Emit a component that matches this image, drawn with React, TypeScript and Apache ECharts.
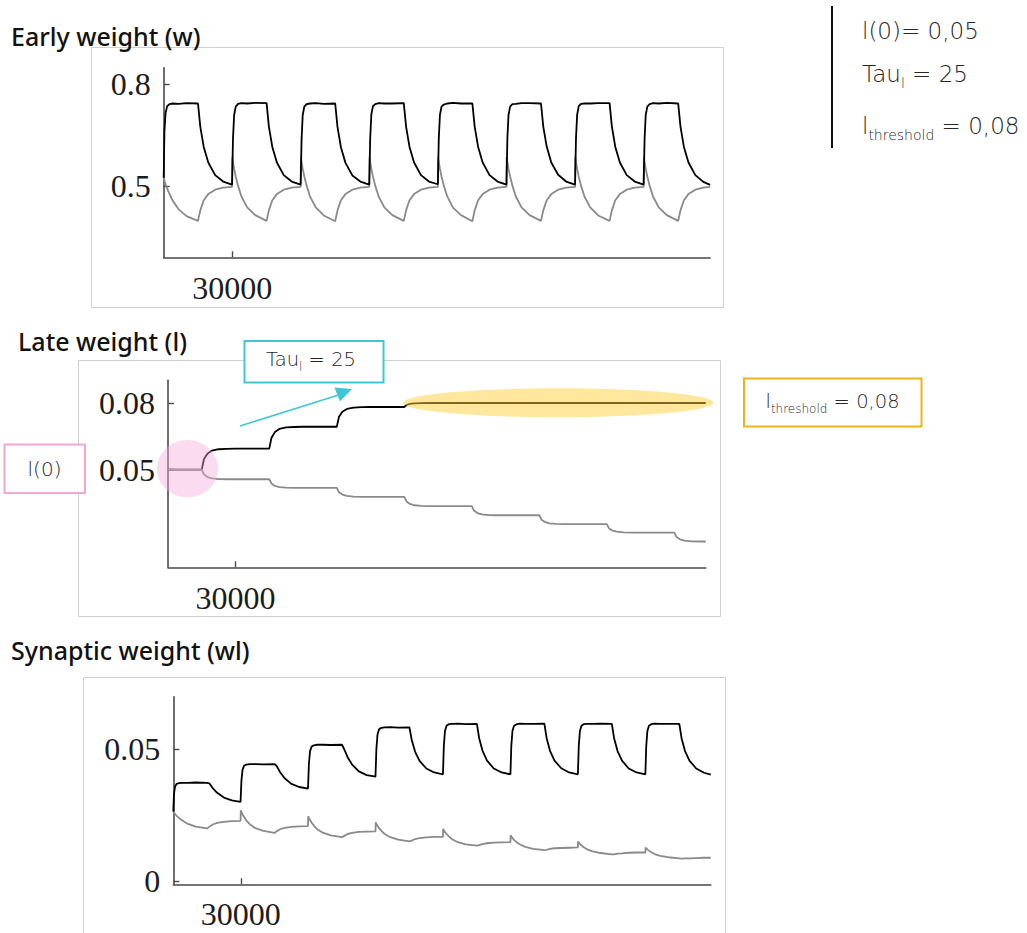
import React, { useEffect, useRef } from "react";
import * as echarts from "echarts";

// ---------- data ----------
const time = [
  0, 300, 800, 1500, 2500, 4000, 6500, 10000, 15000, 16000, 17500, 19500, 22500, 26000, 29900,
  30000, 30300, 30800, 31500, 32500, 34000, 36500, 40000, 45000, 46000, 47500, 49500, 52500, 56000, 59900,
  60000, 60300, 60800, 61500, 62500, 64000, 66500, 70000, 75000, 76000, 77500, 79500, 82500, 86000, 89900,
  90000, 90300, 90800, 91500, 92500, 94000, 96500, 100000, 105000, 106000, 107500, 109500, 112500, 116000, 119900,
  120000, 120300, 120800, 121500, 122500, 124000, 126500, 130000, 135000, 136000, 137500, 139500, 142500, 146000, 149900,
  150000, 150300, 150800, 151500, 152500, 154000, 156500, 160000, 165000, 166000, 167500, 169500, 172500, 176000, 179900,
  180000, 180300, 180800, 181500, 182500, 184000, 186500, 190000, 195000, 196000, 197500, 199500, 202500, 206000, 209900,
  210000, 210300, 210800, 211500, 212500, 214000, 216500, 220000, 225000, 226000, 227500, 229500, 232500, 236000, 239000,
];

const earlyStimulated = [
  0.525, 0.66, 0.715, 0.736, 0.742, 0.744, 0.743, 0.745, 0.744, 0.676, 0.616, 0.57, 0.533, 0.514, 0.505,
  0.505, 0.64, 0.71, 0.735, 0.743, 0.745, 0.744, 0.746, 0.745, 0.676, 0.616, 0.57, 0.533, 0.514, 0.505,
  0.505, 0.64, 0.71, 0.735, 0.742, 0.744, 0.745, 0.743, 0.744, 0.675, 0.615, 0.569, 0.532, 0.514, 0.505,
  0.505, 0.64, 0.711, 0.736, 0.742, 0.745, 0.744, 0.744, 0.745, 0.676, 0.616, 0.57, 0.533, 0.514, 0.506,
  0.506, 0.64, 0.71, 0.735, 0.741, 0.744, 0.746, 0.744, 0.744, 0.676, 0.616, 0.57, 0.533, 0.514, 0.505,
  0.505, 0.641, 0.71, 0.735, 0.742, 0.743, 0.745, 0.745, 0.744, 0.676, 0.617, 0.57, 0.534, 0.514, 0.505,
  0.505, 0.64, 0.71, 0.736, 0.743, 0.744, 0.744, 0.745, 0.745, 0.676, 0.616, 0.57, 0.533, 0.514, 0.505,
  0.505, 0.64, 0.71, 0.735, 0.742, 0.745, 0.744, 0.746, 0.744, 0.676, 0.616, 0.57, 0.533, 0.513, 0.504,
];

const earlyUnstimulated = [
  0.525, 0.517, 0.506, 0.494, 0.478, 0.457, 0.432, 0.412, 0.398, 0.429, 0.459, 0.477, 0.49, 0.496, 0.498,
  0.586, 0.572, 0.552, 0.529, 0.502, 0.47, 0.438, 0.415, 0.398, 0.429, 0.459, 0.477, 0.49, 0.496, 0.498,
  0.586, 0.572, 0.552, 0.529, 0.502, 0.47, 0.438, 0.414, 0.397, 0.429, 0.459, 0.477, 0.49, 0.496, 0.498,
  0.585, 0.571, 0.552, 0.529, 0.502, 0.47, 0.438, 0.415, 0.398, 0.429, 0.459, 0.477, 0.49, 0.496, 0.498,
  0.586, 0.572, 0.552, 0.529, 0.502, 0.47, 0.437, 0.415, 0.397, 0.429, 0.459, 0.477, 0.49, 0.496, 0.498,
  0.586, 0.572, 0.552, 0.529, 0.502, 0.47, 0.438, 0.415, 0.398, 0.429, 0.459, 0.477, 0.49, 0.496, 0.498,
  0.586, 0.572, 0.552, 0.529, 0.502, 0.47, 0.438, 0.414, 0.398, 0.429, 0.459, 0.477, 0.49, 0.496, 0.498,
  0.586, 0.572, 0.552, 0.529, 0.502, 0.47, 0.438, 0.415, 0.398, 0.429, 0.459, 0.477, 0.49, 0.496, 0.498,
];

const lateStimulated = [
  0.05, 0.05, 0.05, 0.05, 0.05, 0.05, 0.05, 0.05, 0.05, 0.0548, 0.0572, 0.0586, 0.0592, 0.0594, 0.0595,
  0.0595, 0.0595, 0.0595, 0.0595, 0.0595, 0.0595, 0.0595, 0.0595, 0.0595, 0.0644, 0.0669, 0.0683, 0.069, 0.0692, 0.0693,
  0.0693, 0.0693, 0.0693, 0.0693, 0.0693, 0.0693, 0.0693, 0.0693, 0.0693, 0.0738, 0.0761, 0.0773, 0.0779, 0.0781, 0.0782,
  0.0782, 0.0782, 0.0782, 0.0782, 0.0782, 0.0782, 0.0782, 0.0782, 0.0782, 0.0791, 0.0796, 0.0798, 0.0799, 0.08, 0.08,
  0.08, 0.08, 0.08, 0.08, 0.08, 0.08, 0.08, 0.08, 0.08, 0.08, 0.08, 0.08, 0.08, 0.08, 0.08,
  0.08, 0.08, 0.08, 0.08, 0.08, 0.08, 0.08, 0.08, 0.08, 0.08, 0.08, 0.08, 0.08, 0.08, 0.08,
  0.08, 0.08, 0.08, 0.08, 0.08, 0.08, 0.08, 0.08, 0.08, 0.08, 0.08, 0.08, 0.08, 0.08, 0.08,
  0.08, 0.08, 0.08, 0.08, 0.08, 0.08, 0.08, 0.08, 0.08, 0.08, 0.08, 0.08, 0.08, 0.08, 0.08,
];

const lateUnstimulated = [
  0.05, 0.05, 0.05, 0.05, 0.05, 0.05, 0.05, 0.05, 0.05, 0.0479, 0.0467, 0.0461, 0.0458, 0.0457, 0.0457,
  0.0457, 0.0457, 0.0457, 0.0457, 0.0457, 0.0457, 0.0457, 0.0457, 0.0457, 0.0438, 0.0427, 0.0422, 0.0419, 0.0418, 0.0418,
  0.0418, 0.0418, 0.0418, 0.0418, 0.0418, 0.0418, 0.0418, 0.0418, 0.0418, 0.0398, 0.0388, 0.0382, 0.0379, 0.0378, 0.0378,
  0.0378, 0.0378, 0.0378, 0.0378, 0.0378, 0.0378, 0.0378, 0.0378, 0.0378, 0.0357, 0.0346, 0.034, 0.0337, 0.0336, 0.0336,
  0.0336, 0.0336, 0.0336, 0.0336, 0.0336, 0.0336, 0.0336, 0.0336, 0.0336, 0.0316, 0.0305, 0.0299, 0.0296, 0.0295, 0.0295,
  0.0295, 0.0295, 0.0295, 0.0295, 0.0295, 0.0295, 0.0295, 0.0295, 0.0295, 0.0275, 0.0265, 0.0259, 0.0256, 0.0255, 0.0255,
  0.0255, 0.0255, 0.0255, 0.0255, 0.0255, 0.0255, 0.0255, 0.0255, 0.0255, 0.0236, 0.0226, 0.0221, 0.0218, 0.0217, 0.0217,
  0.0217, 0.0217, 0.0217, 0.0217, 0.0217, 0.0217, 0.0217, 0.0217, 0.0217, 0.0197, 0.0187, 0.0181, 0.0178, 0.0177, 0.0177,
];

const synStimulated = [
  0.0263, 0.033, 0.0358, 0.0368, 0.0371, 0.0372, 0.0372, 0.0373, 0.0372, 0.037, 0.0352, 0.0334, 0.0316, 0.0305, 0.03,
  0.03, 0.0381, 0.0422, 0.0437, 0.0441, 0.0443, 0.0443, 0.0442, 0.0443, 0.0435, 0.0412, 0.0389, 0.0368, 0.0356, 0.035,
  0.035, 0.0444, 0.0492, 0.0509, 0.0514, 0.0516, 0.0516, 0.0515, 0.0516, 0.0499, 0.0469, 0.0441, 0.0415, 0.0401, 0.0395,
  0.0395, 0.05, 0.0555, 0.0575, 0.058, 0.0582, 0.0583, 0.0581, 0.0582, 0.0535, 0.049, 0.0455, 0.0426, 0.0411, 0.0404,
  0.0404, 0.0512, 0.0568, 0.0588, 0.0594, 0.0595, 0.0596, 0.0594, 0.0595, 0.0541, 0.0493, 0.0456, 0.0426, 0.0411, 0.0404,
  0.0404, 0.0512, 0.0568, 0.0588, 0.0593, 0.0596, 0.0595, 0.0595, 0.0596, 0.0541, 0.0493, 0.0456, 0.0427, 0.0411, 0.0404,
  0.0404, 0.0512, 0.0568, 0.0588, 0.0594, 0.0595, 0.0595, 0.0596, 0.0595, 0.0541, 0.0493, 0.0456, 0.0426, 0.0411, 0.0404,
  0.0404, 0.0512, 0.0568, 0.0588, 0.0594, 0.0596, 0.0595, 0.0595, 0.0595, 0.0541, 0.0493, 0.0456, 0.0426, 0.041, 0.0403,
];

const synUnstimulated = [
  0.0263, 0.0259, 0.0253, 0.0247, 0.0239, 0.0229, 0.0216, 0.0206, 0.0199, 0.0205, 0.0214, 0.022, 0.0224, 0.0227, 0.0228,
  0.0268, 0.0261, 0.0252, 0.0242, 0.0229, 0.0215, 0.02, 0.019, 0.0182, 0.0188, 0.0196, 0.0201, 0.0205, 0.0207, 0.0208,
  0.0245, 0.0239, 0.0231, 0.0221, 0.021, 0.0196, 0.0183, 0.0173, 0.0166, 0.0171, 0.0178, 0.0182, 0.0186, 0.0187, 0.0188,
  0.0222, 0.0216, 0.0209, 0.02, 0.019, 0.0178, 0.0166, 0.0157, 0.015, 0.0153, 0.0159, 0.0162, 0.0165, 0.0167, 0.0167,
  0.0197, 0.0192, 0.0185, 0.0178, 0.0169, 0.0158, 0.0147, 0.0139, 0.0134, 0.0136, 0.014, 0.0143, 0.0145, 0.0146, 0.0147,
  0.0173, 0.0169, 0.0163, 0.0156, 0.0148, 0.0139, 0.0129, 0.0122, 0.0117, 0.0118, 0.0122, 0.0124, 0.0125, 0.0126, 0.0127,
  0.0149, 0.0146, 0.0141, 0.0135, 0.0128, 0.012, 0.0112, 0.0106, 0.0101, 0.0101, 0.0104, 0.0105, 0.0107, 0.0108, 0.0108,
  0.0127, 0.0124, 0.012, 0.0115, 0.0109, 0.0102, 0.0095, 0.009, 0.0086, 0.0085, 0.0086, 0.0086, 0.0087, 0.0088, 0.0088,
];

const xTicks = [30000];
const earlyTicks = [0.5, 0.8];
const lateTicks = [0.05, 0.08];
const synTicks = [0, 0.05];

const panelTitles = ["Early weight (w)", "Late weight (l)", "Synaptic weight (wl)"];

// ---------- styling ----------
const SERIF = '"Liberation Serif", "Times New Roman", serif';
const TITLE_FONT = '"Noto Sans", Lato, sans-serif';
const THIN = '"DejaVu Sans", sans-serif';
const AXIS_COLOR = "#4a4a4a";
const BLACK = "#000000";
const GRAY = "#8a8a8a";
const CYAN = "#3fc6d6";
const PINK = "#f2a6d4";
const GOLD = "#efb511";

const pts = (vals: number[]) => time.map((t, i) => [t, vals[i]]);

function xAxisFor(gridIndex: number, margin: number) {
  return {
    type: "value",
    gridIndex,
    min: 0,
    max: 239000,
    axisLine: { show: true, onZero: false, lineStyle: { color: AXIS_COLOR, width: 1.6 } },
    axisTick: { show: true, inside: true, length: 6, customValues: xTicks, lineStyle: { color: AXIS_COLOR, width: 1.4 } },
    axisLabel: {
      customValues: xTicks,
      margin,
      fontFamily: SERIF,
      fontSize: 32,
      color: "#1c1c1c",
      formatter: (v: number) => String(v),
    },
    splitLine: { show: false },
  };
}

function yAxisFor(gridIndex: number, min: number, max: number, ticks: number[]) {
  return {
    type: "value",
    gridIndex,
    min,
    max,
    axisLine: { show: true, onZero: false, lineStyle: { color: AXIS_COLOR, width: 1.6 } },
    axisTick: { show: true, inside: true, length: 6, customValues: ticks, lineStyle: { color: AXIS_COLOR, width: 1.4 } },
    axisLabel: {
      customValues: ticks,
      margin: 13,
      fontFamily: SERIF,
      fontSize: 32,
      color: "#1c1c1c",
      formatter: (v: number) => String(v),
    },
    splitLine: { show: false },
  };
}

function lineSeries(idx: number, vals: number[], color: string, z: number) {
  return {
    type: "line",
    xAxisIndex: idx,
    yAxisIndex: idx,
    data: pts(vals),
    showSymbol: false,
    symbol: "none",
    lineStyle: { color, width: 1.8 },
    silent: true,
    z,
  };
}

function subText(
  x: number,
  y: number,
  a: string,
  sub: string,
  b: string,
  size: number,
  subSize: number,
  align: string,
  lh: number
) {
  return {
    type: "text",
    x,
    y,
    z: 20,
    style: {
      text: `{a|${a}}{s|${sub}}{a|${b}}`,
      align,
      verticalAlign: "middle",
      rich: {
        a: {
          fontFamily: THIN,
          fontWeight: 200,
          fontSize: size,
          fill: "#262626",
          lineHeight: lh,
          verticalAlign: "middle",
        },
        s: {
          fontFamily: THIN,
          fontWeight: 200,
          fontSize: subSize,
          fill: "#262626",
          lineHeight: subSize,
          verticalAlign: "bottom",
        },
      },
    },
  };
}

function plainText(x: number, y: number, text: string, size: number, align: string) {
  return {
    type: "text",
    x,
    y,
    z: 20,
    style: {
      text,
      align,
      verticalAlign: "middle",
      fontFamily: THIN,
      fontWeight: 200,
      fontSize: size,
      fill: "#262626",
    },
  };
}

function titleText(x: number, y: number, text: string) {
  return {
    type: "text",
    x,
    y,
    z: 20,
    style: {
      text,
      align: "left",
      verticalAlign: "middle",
      fontFamily: TITLE_FONT,
      fontWeight: 500,
      fontSize: 25,
      fill: "#111111",
    },
  };
}

function box(x: number, y: number, w: number, h: number, stroke: string, lineWidth: number, z: number) {
  return {
    type: "rect",
    z,
    shape: { x, y, width: w, height: h },
    style: { fill: "none", stroke, lineWidth },
  };
}

export default function App() {
  const ref = useRef<HTMLDivElement>(null);

  useEffect(() => {
    if (!ref.current) return;
    const chart = echarts.init(ref.current, undefined, { renderer: "svg" });

    const option = {
      animation: false,
      backgroundColor: "#ffffff",
      grid: [
        { left: 163.7, top: 67.7, width: 546.5, height: 189.6 },
        { left: 168, top: 380.3, width: 537.8, height: 187 },
        { left: 173.3, top: 696.7, width: 537.5, height: 187.6 },
      ],
      xAxis: [xAxisFor(0, 15), xAxisFor(1, 15), xAxisFor(2, 14)],
      yAxis: [
        yAxisFor(0, 0.2907, 0.8495, earlyTicks),
        yAxisFor(1, 0.0061, 0.0902, lateTicks),
        yAxisFor(2, -0.00125, 0.0698, synTicks),
      ],
      series: [
        lineSeries(0, earlyUnstimulated, GRAY, 3),
        lineSeries(0, earlyStimulated, BLACK, 4),
        lineSeries(1, lateStimulated, BLACK, 3),
        lineSeries(1, lateUnstimulated, GRAY, 4),
        lineSeries(2, synUnstimulated, GRAY, 3),
        lineSeries(2, synStimulated, BLACK, 4),
      ],
      graphic: [
        // panel frames
        box(91.5, 47.5, 632, 260, "#d0d0d0", 1, 0),
        box(78.5, 360.5, 642, 256, "#d0d0d0", 1, 0),
        box(83.5, 677.5, 642, 270, "#d0d0d0", 1, 0),
        // titles
        titleText(11, 36, panelTitles[0]),
        titleText(18, 340.5, panelTitles[1]),
        titleText(11, 650, panelTitles[2]),
        // parameter list, top right
        {
          type: "line",
          z: 20,
          shape: { x1: 832, y1: 6, x2: 832, y2: 148 },
          style: { stroke: "#111111", lineWidth: 2 },
        },
        plainText(862, 31, "l(0)= 0,05", 23, "left"),
        subText(862, 74, "Tau", "l", " = 25", 23, 14, "left", 31),
        subText(862, 126, "l", "threshold", " = 0,08", 23, 14, "left", 31),
        // highlight shapes on late-weight panel
        {
          type: "ellipse",
          z: 10,
          shape: { cx: 187.5, cy: 468.7, rx: 30.5, ry: 28.7 },
          style: { fill: "rgba(245, 170, 220, 0.42)" },
        },
        {
          type: "ellipse",
          z: 10,
          shape: { cx: 558.3, cy: 402.8, rx: 155, ry: 14.5 },
          style: { fill: "rgba(255, 208, 60, 0.5)" },
        },
        // l(0) box
        {
          type: "rect",
          z: 15,
          shape: { x: 4.5, y: 444.5, width: 80.5, height: 48.5 },
          style: { fill: "#ffffff", stroke: PINK, lineWidth: 2 },
        },
        plainText(44.5, 469, "l(0)", 20, "center"),
        // Tau box + arrow
        {
          type: "rect",
          z: 15,
          shape: { x: 244.5, y: 341, width: 139, height: 41.5 },
          style: { fill: "#ffffff", stroke: CYAN, lineWidth: 2 },
        },
        subText(311, 359, "Tau", "l", " = 25", 19.5, 12, "center", 27),
        {
          type: "line",
          z: 15,
          shape: { x1: 240, y1: 426, x2: 340, y2: 394.5 },
          style: { stroke: CYAN, lineWidth: 1.5 },
        },
        {
          type: "polygon",
          z: 15,
          shape: { points: [[352, 389], [334.5, 387.5], [340, 401.5]] },
          style: { fill: CYAN },
        },
        // threshold box
        {
          type: "rect",
          z: 15,
          shape: { x: 744, y: 378.5, width: 177.5, height: 48 },
          style: { fill: "#ffffff", stroke: GOLD, lineWidth: 2 },
        },
        subText(832.5, 401, "l", "threshold", " = 0,08", 19.5, 12, "center", 27),
      ],
    };

    chart.setOption(option as any);
    return () => {
      chart.dispose();
    };
  }, []);

  return (
    <div
      ref={ref}
      style={{ position: "absolute", left: 0, top: 0, width: 1027, height: 933, background: "#fff" }}
    />
  );
}
